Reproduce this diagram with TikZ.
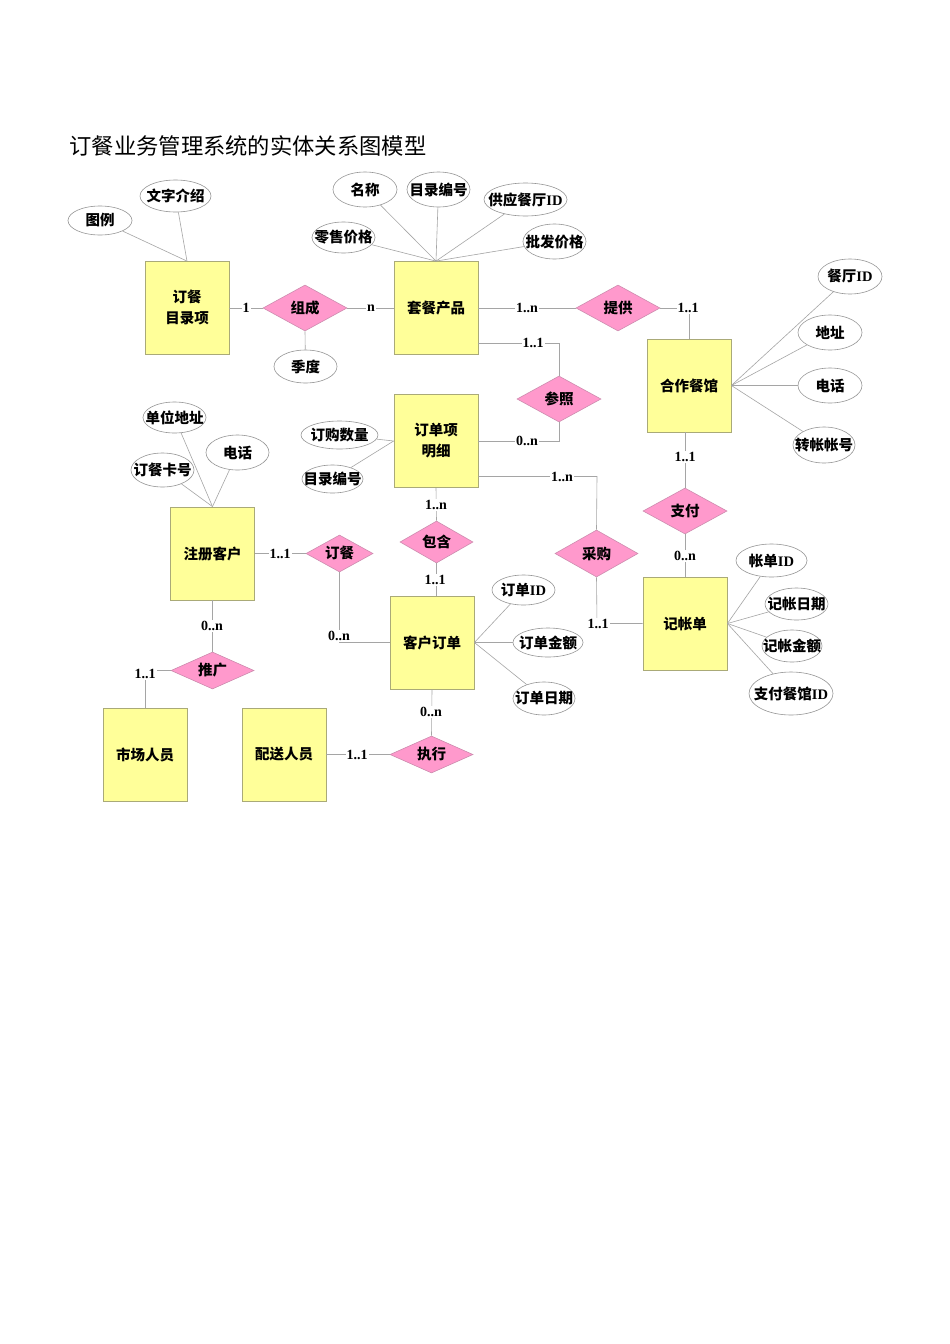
\documentclass[tikz,border=0pt]{standalone}
\usepackage{fontspec}
\usetikzlibrary{shapes.geometric}
\newfontfamily\cjkf{Noto Sans CJK SC}
\newfontfamily\latf{Liberation Serif}
\definecolor{entfill}{RGB}{255,255,153}
\definecolor{entline}{RGB}{170,170,120}
\definecolor{relfill}{RGB}{255,153,204}
\definecolor{relline}{RGB}{205,140,175}
\definecolor{attline}{RGB}{150,150,150}
\definecolor{linkgray}{RGB}{165,165,165}
\newcommand{\IDtxt}{{\latf\bfseries ID}}
\newcommand{\lbl}{\cjkf\bfseries\fontsize{14.5}{21}\selectfont}
\begin{document}
\begin{tikzpicture}[x=1pt,y=-1pt,
  ent/.style={rectangle,draw=entline,fill=entfill,line width=0.8pt,minimum width=84pt,minimum height=93pt,inner sep=0pt,align=center,font=\lbl},
  rel/.style={diamond,draw=relline,fill=relfill,line width=0.6pt,minimum width=84pt,minimum height=46pt,inner sep=0pt,aspect=1.8,font=\lbl},
  attr/.style={ellipse,draw=attline,fill=white,line width=0.6pt,minimum width=63pt,minimum height=32pt,inner sep=0pt,font=\lbl},
  card/.style={fill=white,inner sep=1pt,font=\latf\bfseries\fontsize{14}{16}\selectfont},
  ln/.style={draw=linkgray,line width=0.6pt}]
\useasboundingbox[fill=white] (0,0) rectangle (950,1344);

\node[anchor=west,font=\cjkf\fontsize{22.3}{26}\selectfont] (title) at (66,146) {订餐业务管理系统的实体关系图模型};

% entities
\node[ent] (e1) at (187,308) {订餐\\目录项};
\node[ent] (e2) at (436,308) {套餐产品};
\node[ent] (e3) at (689,385.5) {合作餐馆};
\node[ent] (e4) at (436,441) {订单项\\明细};
\node[ent] (e5) at (212.5,553.5) {注册客户};
\node[ent] (e6) at (432,642.5) {客户订单};
\node[ent] (e7) at (685,623.5) {记帐单};
\node[ent] (e8) at (145,754.5) {市场人员};
\node[ent] (e9) at (284,754.5) {配送人员};

% relationships
\node[rel] (r1) at (305,308) {组成};
\node[rel] (r2) at (618,308) {提供};
\node[rel] (r3) at (559,399) {参照};
\node[rel,minimum width=67pt,minimum height=37pt] (r4) at (339.5,553.5) {订餐};
\node[rel,minimum width=73pt,minimum height=42pt] (r5) at (436.5,542) {包含};
\node[rel,minimum width=83pt,minimum height=47pt] (r6) at (596.5,553.5) {采购};
\node[rel] (r7) at (685,511) {支付};
\node[rel,minimum width=83pt,minimum height=37pt] (r8) at (212.5,670.5) {推广};
\node[rel,minimum width=83pt,minimum height=37pt] (r9) at (431.5,754.5) {执行};

% attributes
\node[attr,minimum width=64pt,minimum height=29pt] (a1) at (100,220.5) {\makebox[0pt]{图例}};
\node[attr,minimum width=71pt,minimum height=32pt] (a2) at (175.5,196) {\makebox[0pt]{文字介绍}};
\node[attr,minimum width=63pt,minimum height=33pt] (a3) at (305.5,366.5) {\makebox[0pt]{季度}};
\node[attr,minimum width=64pt,minimum height=35pt] (a4) at (365,189.5) {\makebox[0pt]{名称}};
\node[attr,minimum width=63pt,minimum height=35pt] (a5) at (438.5,189.5) {\makebox[0pt]{目录编号}};
\node[attr,minimum width=83pt,minimum height=33pt] (a6) at (525.5,199.5) {\makebox[0pt]{供应餐厅\IDtxt}};
\node[attr,minimum width=63pt,minimum height=31pt] (a7) at (343.5,237.5) {\makebox[0pt]{零售价格}};
\node[attr,minimum width=63pt,minimum height=35pt] (a8) at (554.5,241.5) {\makebox[0pt]{批发价格}};
\node[attr,minimum width=64pt,minimum height=35pt] (a9) at (850,276.5) {\makebox[0pt]{餐厅\IDtxt}};
\node[attr,minimum width=64pt,minimum height=35pt] (a10) at (830,332.5) {\makebox[0pt]{地址}};
\node[attr,minimum width=64pt,minimum height=35pt] (a11) at (830,385.5) {\makebox[0pt]{电话}};
\node[attr,minimum width=62pt,minimum height=36pt] (a12) at (824,445) {\makebox[0pt]{转帐帐号}};
\node[attr,minimum width=63pt,minimum height=31pt] (a13) at (174.5,417.5) {\makebox[0pt]{单位地址}};
\node[attr,minimum width=63pt,minimum height=35pt] (a14) at (237.5,452.5) {\makebox[0pt]{电话}};
\node[attr,minimum width=63pt,minimum height=34pt] (a15) at (162.5,470) {\makebox[0pt]{订餐卡号}};
\node[attr,minimum width=77pt,minimum height=28pt] (a16) at (339.5,435) {\makebox[0pt]{订购数量}};
\node[attr,minimum width=61pt,minimum height=28pt] (a17) at (332.5,479) {\makebox[0pt]{目录编号}};
\node[attr,minimum width=63pt,minimum height=30pt] (a18) at (523.5,590) {\makebox[0pt]{订单\IDtxt}};
\node[attr,minimum width=70pt,minimum height=29pt] (a19) at (548,642.5) {\makebox[0pt]{订单金额}};
\node[attr,minimum width=62pt,minimum height=33pt] (a20) at (544,698.5) {\makebox[0pt]{订单日期}};
\node[attr,minimum width=71pt,minimum height=33pt] (a21) at (771.5,560.5) {\makebox[0pt]{帐单\IDtxt}};
\node[attr,minimum width=63pt,minimum height=32pt] (a22) at (796.5,604) {\makebox[0pt]{记帐日期}};
\node[attr,minimum width=60pt,minimum height=32pt] (a23) at (792,646) {\makebox[0pt]{记帐金额}};
\node[attr,minimum width=84pt,minimum height=43pt] (a24) at (791,693.5) {\makebox[0pt]{支付餐馆\IDtxt}};

% attribute links
\draw[ln] (a1) -- (e1.north);
\draw[ln] (a2) -- (e1.north);
\draw[ln] (a3) -- (r1.south);
\foreach \a in {a4,a5,a6,a7,a8} \draw[ln] (\a) -- (e2.north);
\foreach \a in {a9,a10,a11,a12} \draw[ln] (\a) -- (e3.east);
\foreach \a in {a13,a14,a15} \draw[ln] (\a) -- (e5.north);
\foreach \a in {a16,a17} \draw[ln] (\a) -- (e4.west);
\foreach \a in {a18,a19,a20} \draw[ln] (\a) -- (e6.east);
\foreach \a in {a21,a22,a23,a24} \draw[ln] (\a) -- (e7.east);

% relationship links
\coordinate (c2) at (689,308);
\coordinate (c3a) at (559,343);
\coordinate (c3b) at (559,441);
\coordinate (c6a) at (597,476.5);
\coordinate (c6b) at (597,623.5);
\coordinate (c4) at (339.5,642.5);
\coordinate (c8) at (145,670.5);

\draw[ln] (e1.east) -- (r1.west);
\draw[ln] (r1.east) -- (e2.west);
\draw[ln] (e2.east) -- (r2.west);
\draw[ln] (r2.east) -- (c2) -- (e3.north);
\draw[ln] (e2.east |- c3a) -- (c3a) -- (r3.north);
\draw[ln] (r3.south) -- (c3b) -- (e4.east |- c3b);
\draw[ln] (e4.east |- c6a) -- (c6a) -- (r6.north);
\draw[ln] (r6.south) -- (c6b) -- (e7.west);
\draw[ln] (r7.north) -- (r7.north |- e3.south);
\draw[ln] (r7.south) -- (e7.north);
\draw[ln] (e4.south) -- (r5.north);
\draw[ln] (r5.south) -- (r5.south |- e6.north);
\draw[ln] (e5.east) -- (r4.west);
\draw[ln] (r4.south) -- (c4) -- (e6.west);
\draw[ln] (e5.south) -- (r8.north);
\draw[ln] (r8.west) -- (c8) -- (e8.north);
\draw[ln] (e6.south) -- (r9.north);
\draw[ln] (e9.east) -- (r9.west);

% cardinalities
\node[card] (k1) at (246,308) {1};
\node[card] (k2) at (371,308) {n};
\node[card] (k3) at (527,308) {1..n};
\node[card] (k4) at (688,308) {1..1};
\node[card] (k5) at (533,343) {1..1};
\node[card] (k6) at (527,441) {0..n};
\node[card] (k7) at (562,476.5) {1..n};
\node[card] (k8) at (598,623.5) {1..1};
\node[card] (k9) at (685,457) {1..1};
\node[card] (k10) at (685,556) {0..n};
\node[card] (k11) at (436,505) {1..n};
\node[card] (k12) at (435,580) {1..1};
\node[card] (k13) at (280,553.5) {1..1};
\node[card] (k14) at (339,636) {0..n};
\node[card] (k15) at (212,626) {0..n};
\node[card] (k16) at (145,674) {1..1};
\node[card] (k17) at (431,712) {0..n};
\node[card] (k18) at (357,754.5) {1..1};
\end{tikzpicture}
\end{document}
